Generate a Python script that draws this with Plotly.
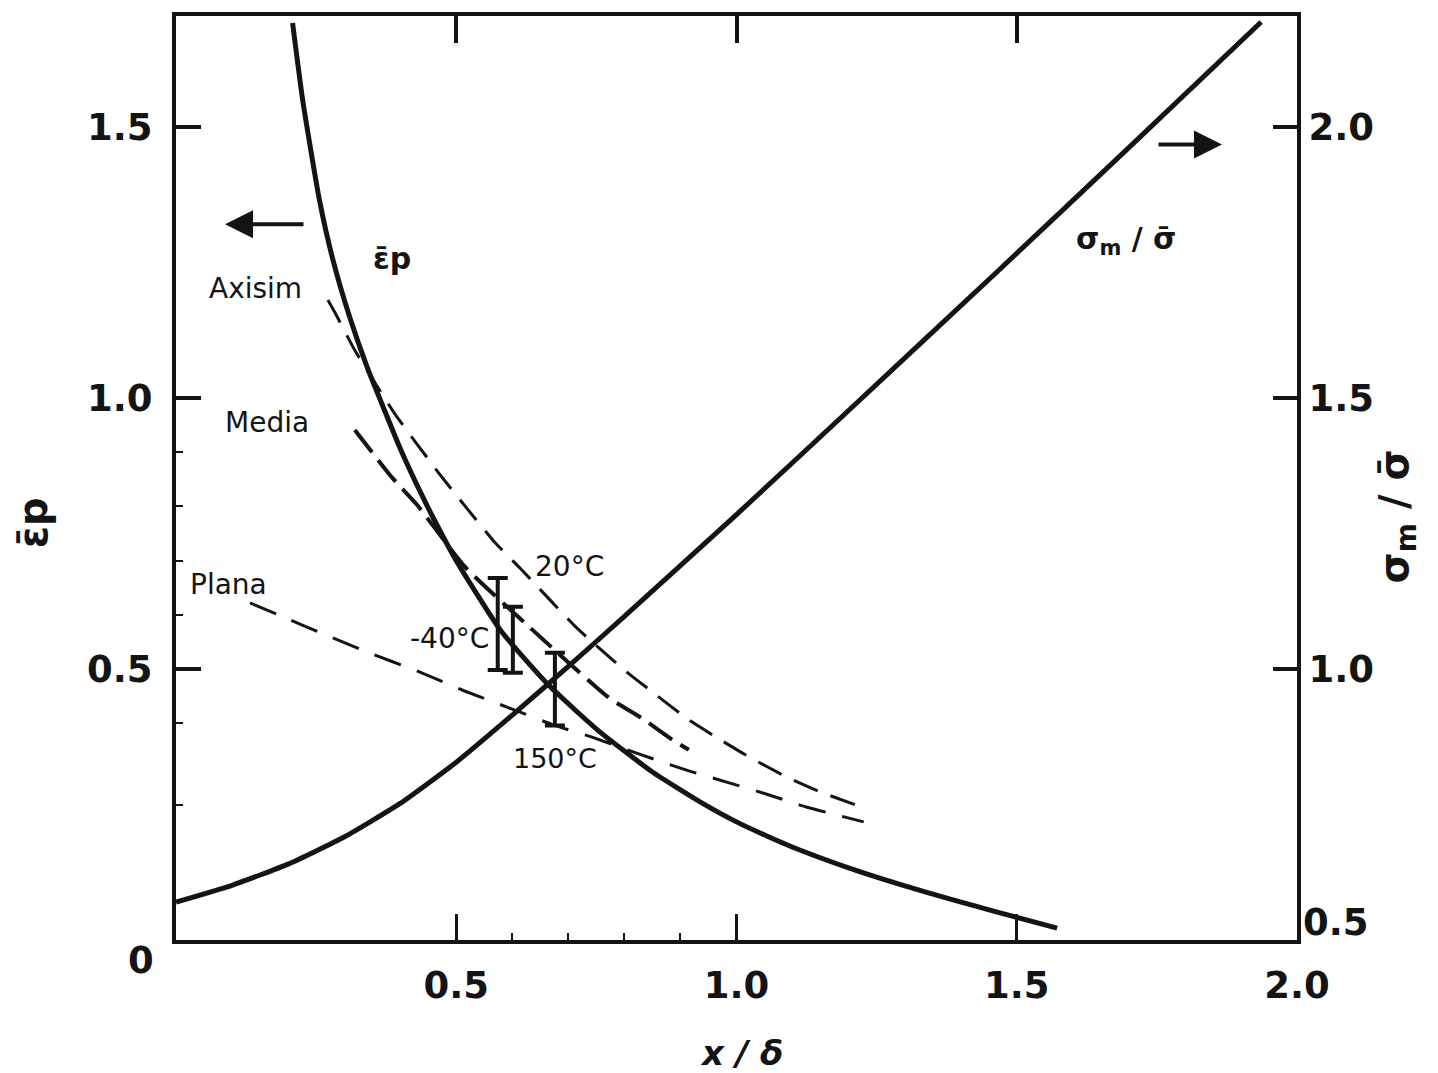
import plotly.graph_objects as go

# ---------------- data ----------------
# equivalent plastic strain, solid curve (left axis)
ep_x = [0.208, 0.226, 0.256, 0.28, 0.31, 0.341, 0.369, 0.40, 0.44, 0.47, 0.50, 0.58,
        0.667, 0.755, 0.85, 0.935, 1.0, 1.054, 1.113, 1.2, 1.29, 1.38, 1.47, 1.572]
ep_y = [1.692, 1.55, 1.365, 1.255, 1.149, 1.057, 0.985, 0.907, 0.818, 0.757, 0.700, 0.570,
        0.468, 0.385, 0.310, 0.255, 0.218, 0.192, 0.166, 0.133, 0.103, 0.076, 0.050, 0.022]

# stress triaxiality sigma_m / sigma_bar, solid curve (right axis)
sig_x = [0.0, 0.1, 0.2, 0.3, 0.4, 0.5, 0.6, 0.7, 0.8, 1.0, 1.2, 1.467, 1.7, 1.936]
sig_y = [0.570, 0.601, 0.640, 0.690, 0.752, 0.828, 0.915, 1.005, 1.097, 1.285, 1.477,
         1.735, 1.962, 2.194]

# dashed criteria curves (left axis)
axi_x = [0.271, 0.284, 0.318, 0.36, 0.391, 0.473, 0.567, 0.614, 0.714, 0.80, 0.857,
         0.915, 0.972, 1.022, 1.093, 1.150, 1.227]
axi_y = [1.181, 1.157, 1.090, 1.02, 0.970, 0.856, 0.736, 0.686, 0.577, 0.498, 0.452,
         0.406, 0.369, 0.338, 0.299, 0.273, 0.244]

med_x = [0.319, 0.385, 0.43, 0.516, 0.632, 0.771, 0.83, 0.892, 0.915]
med_y = [0.941, 0.854, 0.803, 0.688, 0.576, 0.448, 0.41, 0.365, 0.351]

pla_x = [0.132, 0.196, 0.267, 0.342, 0.431, 0.516, 0.595, 0.673, 0.746, 0.832, 0.915,
         0.987, 1.054, 1.126, 1.227]
pla_y = [0.622, 0.594, 0.563, 0.531, 0.496, 0.459, 0.428, 0.397, 0.373, 0.341, 0.312,
         0.290, 0.269, 0.245, 0.218]

# experimental scatter bands (-40 C, 20 C, 150 C)
bar_x = [0.574, 0.601, 0.676]
bar_mid = [0.583, 0.554, 0.463]
bar_err = [0.085, 0.061, 0.067]

x_ticks = [0.5, 1.0, 1.5, 2.0]
x_ticktext = ["0.5", "1.0", "1.5", "2.0"]
x_minor = [0.6, 0.7, 0.8, 0.9]
top_ticks = [0.5, 1.0, 1.5]
yl_ticks = [0.5, 1.0, 1.5]
yl_ticktext = ["0.5", "1.0", "1.5"]
yl_minor = [0.25, 0.4, 0.6, 0.7, 0.8, 0.9]
yr_ticks = [1.0, 1.5, 2.0]
yr_ticktext = ["1.0", "1.5", "2.0"]

# ---------------- layout geometry ----------------
W, H = 1438, 1073
L, R, T, B = 176, 1297, 13, 940


def px(x):
    return (x - L) / (R - L)


def py(y):
    return (B - y) / (B - T)


INK = "#141414"
TICKFONT = dict(family="DejaVu Sans", size=37, color=INK, weight="bold")
LABFONT = dict(family="DejaVu Sans", size=28, color=INK)
SMOOTH = dict(shape="spline", smoothing=0.5)

fig = go.Figure()

fig.add_trace(go.Scatter(x=sig_x, y=sig_y, mode="lines", yaxis="y2",
                         line=dict(color=INK, width=5, **SMOOTH),
                         showlegend=False, hoverinfo="skip"))
fig.add_trace(go.Scatter(x=ep_x, y=ep_y, mode="lines",
                         line=dict(color=INK, width=5, **SMOOTH),
                         showlegend=False, hoverinfo="skip"))
fig.add_trace(go.Scatter(x=axi_x, y=axi_y, mode="lines",
                         line=dict(color=INK, width=3, dash="26px,14px", **SMOOTH),
                         showlegend=False, hoverinfo="skip"))
fig.add_trace(go.Scatter(x=med_x, y=med_y, mode="lines",
                         line=dict(color=INK, width=4, dash="28px,10px", **SMOOTH),
                         showlegend=False, hoverinfo="skip"))
fig.add_trace(go.Scatter(x=pla_x, y=pla_y, mode="lines",
                         line=dict(color=INK, width=3, dash="28px,17px", **SMOOTH),
                         showlegend=False, hoverinfo="skip"))
fig.add_trace(go.Scatter(x=bar_x, y=bar_mid, mode="markers",
                         marker=dict(size=1, color="rgba(0,0,0,0)"),
                         error_y=dict(type="data", array=bar_err, visible=True,
                                      color=INK, thickness=4, width=10),
                         showlegend=False, hoverinfo="skip"))
# invisible trace to carry the top tick axis
fig.add_trace(go.Scatter(x=[None], y=[None], xaxis="x2", showlegend=False, hoverinfo="skip"))

annotations = []


def label(text, x, y, font, angle=0):
    annotations.append(dict(text=text, x=px(x), y=py(y), xref="paper", yref="paper",
                            showarrow=False, font=font, textangle=angle,
                            xanchor="center", yanchor="middle"))


label("Axisim", 255, 286, LABFONT)
label("Media", 267, 421, LABFONT)
label("Plana", 228, 583, LABFONT)
label("20°C", 569, 565, LABFONT)
label("-40°C", 449, 638, LABFONT)
label("150°C", 555, 758, dict(LABFONT, size=27))
label("<b>ε̄p</b>", 392, 256, dict(family="DejaVu Sans", size=30, color=INK))
label("<b>σ<sub>m</sub> / σ̄</b>", 1126, 238, dict(family="DejaVu Sans", size=30, color=INK))
label("<b><i>x / δ</i></b>", 741, 1053, dict(family="DejaVu Sans", size=34, color=INK))
label("<b>ε̄p</b>", 33, 521, dict(family="DejaVu Sans", size=40, color=INK), angle=-90)
label("<b>σ<sub>m</sub> / σ̄</b>", 1397, 515, dict(family="DejaVu Sans", size=40, color=INK), angle=-90)
label("0", 141, 961, TICKFONT)
label("0.5", 1336, 922, TICKFONT)

# direction arrows
annotations.append(dict(x=px(225), y=py(222), xref="paper", yref="paper", ax=80, ay=0,
                        showarrow=True, arrowhead=2, arrowsize=1.4, arrowwidth=4,
                        arrowcolor=INK, text=""))
annotations.append(dict(x=px(1222), y=py(142), xref="paper", yref="paper", ax=-65, ay=0,
                        showarrow=True, arrowhead=2, arrowsize=1.4, arrowwidth=4,
                        arrowcolor=INK, text=""))

fig.update_layout(
    width=W, height=H,
    margin=dict(l=L, r=W - R, t=T, b=H - B, pad=0),
    paper_bgcolor="white", plot_bgcolor="white",
    showlegend=False,
    annotations=annotations,
    xaxis=dict(range=[0, 2.0], showgrid=False, zeroline=False,
               showline=True, linewidth=4, linecolor=INK, mirror=True,
               tickmode="array", tickvals=x_ticks, ticktext=x_ticktext,
               ticks="inside", ticklen=26, tickwidth=3, tickcolor=INK,
               tickfont=TICKFONT, ticklabelstandoff=10,
               minor=dict(tickmode="array", tickvals=x_minor, ticks="inside",
                          ticklen=7, tickwidth=2, tickcolor=INK, showgrid=False)),
    xaxis2=dict(range=[0, 2.0], overlaying="x", side="top", showgrid=False,
                zeroline=False, showline=False, tickmode="array", tickvals=top_ticks,
                ticks="inside", ticklen=27, tickwidth=4, tickcolor=INK,
                showticklabels=False),
    yaxis=dict(range=[0, 1.705], showgrid=False, zeroline=False,
               showline=True, linewidth=4, linecolor=INK,
               tickmode="array", tickvals=yl_ticks, ticktext=yl_ticktext,
               ticks="inside", ticklen=25, tickwidth=4, tickcolor=INK,
               tickfont=TICKFONT, ticklabelstandoff=12,
               minor=dict(tickmode="array", tickvals=yl_minor, ticks="inside",
                          ticklen=7, tickwidth=2, tickcolor=INK, showgrid=False)),
    yaxis2=dict(range=[0.5, 2.205], overlaying="y", side="right", showgrid=False,
                zeroline=False, showline=True, linewidth=4, linecolor=INK,
                tickmode="array", tickvals=yr_ticks, ticktext=yr_ticktext,
                ticks="inside", ticklen=24, tickwidth=4, tickcolor=INK,
                tickfont=TICKFONT, ticklabelstandoff=0),
)

fig.write_html("out.html")
